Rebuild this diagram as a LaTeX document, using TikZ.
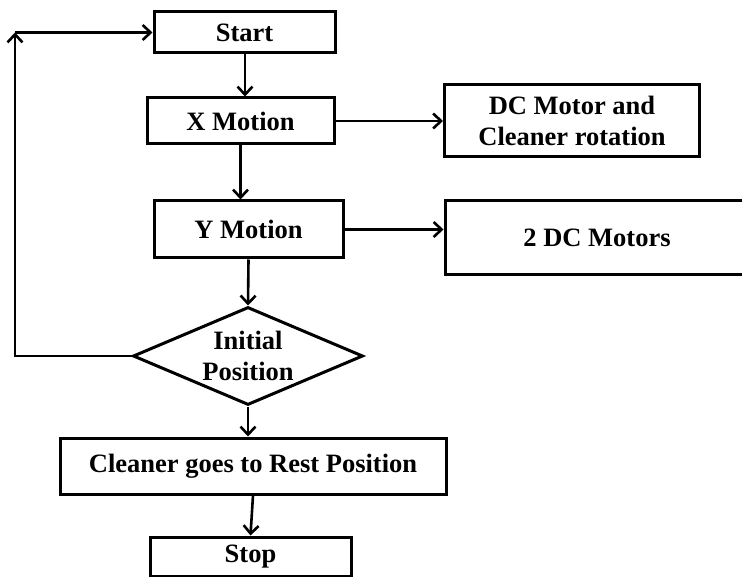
\documentclass[tikz,border=0pt]{standalone}
\usepackage{fontspec}
\setmainfont{Liberation Serif}
\usetikzlibrary{arrows.meta,shapes.geometric}
\tikzset{
  blk/.style={draw, line width=3pt, inner sep=0pt, align=center,
    font=\fontsize{26.5}{31}\selectfont\bfseries},
  flow/.style={line width=2.6pt, -{Straight Barb[length=8pt,width=15pt,line width=2.6pt]}}
}
\begin{document}
\begin{tikzpicture}[x=1pt, y=-1pt]
	\useasboundingbox (0,0) rectangle (742,577);
	% Main column
	\node[blk, minimum width=181pt, minimum height=41pt] (start) at (244.5,32.5) {Start};
	\node[blk, minimum width=187pt, minimum height=46pt] (xmot) at (240.5,121) {X Motion};
	\node[blk, minimum width=189pt, minimum height=57pt] (ymot) at (248.5,229.5) {Y Motion};
	\node[blk, diamond, aspect=2.35, minimum width=230pt, minimum height=98pt] (init) at (248,356) {Initial\\Position};
	\node[blk, minimum width=386pt, minimum height=56pt] (rest) at (253,466) {Cleaner goes to Rest Position};
	\node[blk, minimum width=201pt, minimum height=39pt] (stop) at (250.5,556.5) {Stop};
	% Motors
	\node[blk, minimum width=255pt, minimum height=72pt] (dcm) at (572,121) {DC Motor and\\Cleaner rotation};
	\node[blk, minimum width=304pt, minimum height=74pt] (twodc) at (597,238) {2 DC Motors};
	% Connectors
	\draw[flow] (start.south -| 245,0) -- (xmot.north -| 245,0);
	\draw[flow] (xmot.south) -- (xmot.south |- ymot.north);
	\draw[flow] (ymot.south) -- (init.north);
	\draw[flow] (init.south) -- (init.south |- rest.north);
	\draw[flow] (rest.south) -- (stop.north);
	\draw[flow] (xmot.east) -- (dcm.west);
	\draw[flow] (ymot.east) -- (ymot.east -| twodc.west);
	% Loop back
	\coordinate (corner) at (15,32.5);
	\draw[flow] (init.west) -| (corner);
	\draw[flow] (corner) -- (start.west);
\end{tikzpicture}
\end{document}
